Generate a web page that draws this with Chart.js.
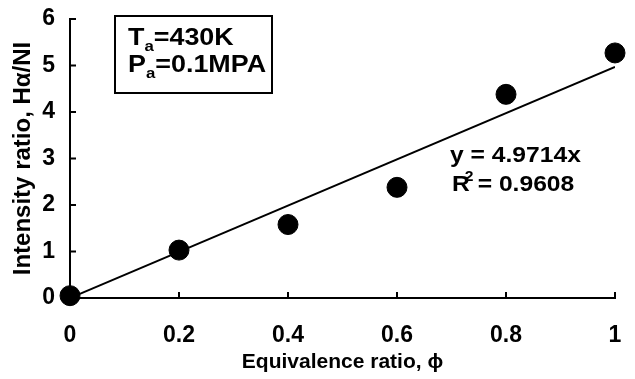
<!DOCTYPE html>
<html>
<head>
<meta charset="utf-8">
<script src="https://cdn.jsdelivr.net/npm/chart.js@4"></script>
<style>
  html, body { margin: 0; padding: 0; background: #ffffff; }
  #wrap { width: 635px; height: 379px; }
</style>
</head>
<body>
<div id="wrap"><canvas id="chart" width="635" height="379"></canvas></div>
<script>
// data
const phiValues = [0, 0.2, 0.4, 0.6, 0.8, 1.0];
const ratioValues = [0.05, 1.03, 1.58, 2.38, 4.38, 5.27];
const trendX = [0, 1];
const trendY = [0, 4.9714];
const xTickLabels = ["0", "0.2", "0.4", "0.6", "0.8", "1"];
const yTickLabels = ["0", "1", "2", "3", "4", "5", "6"];

const FONT = '"Liberation Sans", Arial, sans-serif';
const SX = 1.12; // the reference text is a bit wide

function wideText(ctx, text, x, y, size) {
  ctx.save();
  ctx.translate(x, y);
  ctx.scale(SX, 1);
  ctx.font = `bold ${size}px ${FONT}`;
  ctx.fillText(text, 0, 0);
  const w = ctx.measureText(text).width * SX;
  ctx.restore();
  return w;
}

function noPad(s) {
  s.paddingTop = 0;
  s.paddingBottom = 0;
  s.paddingLeft = 0;
  s.paddingRight = 0;
}

// small inward tick marks
const innerTicks = {
  id: "innerTicks",
  afterDraw(chart) {
    const ctx = chart.ctx;
    const xs = chart.scales.x;
    const ys = chart.scales.y;
    ctx.save();
    ctx.strokeStyle = "#000";
    ctx.lineWidth = 2;
    ctx.beginPath();
    xs.ticks.forEach((t) => {
      const px = xs.getPixelForValue(t.value);
      ctx.moveTo(px, ys.bottom);
      ctx.lineTo(px, ys.bottom - 6);
    });
    ys.ticks.forEach((t) => {
      const py = ys.getPixelForValue(t.value);
      ctx.moveTo(xs.left, py);
      ctx.lineTo(xs.left + 6, py);
    });
    ctx.stroke();
    ctx.restore();
  },
};

// condition box and fit equation
const notes = {
  id: "notes",
  afterDraw(chart) {
    const ctx = chart.ctx;
    ctx.save();
    ctx.fillStyle = "#000";
    ctx.strokeStyle = "#000";
    ctx.lineWidth = 2;
    ctx.strokeRect(115, 16, 157, 77);
    ctx.textBaseline = "alphabetic";

    let x = 128;
    x += wideText(ctx, "T", x, 45, 24);
    x += wideText(ctx, "a", x, 51, 15);
    wideText(ctx, "=430K", x, 45, 24);

    x = 128;
    x += wideText(ctx, "P", x, 72, 24);
    x += wideText(ctx, "a", x, 78, 15);
    wideText(ctx, "=0.1MPA", x, 72, 24);

    wideText(ctx, "y = 4.9714x", 450, 162, 22);
    x = 452;
    x += wideText(ctx, "R", x, 191, 22);
    wideText(ctx, "2", x - 5, 181, 14);
    wideText(ctx, " = 0.9608", x + 1, 191, 22);
    ctx.restore();
  },
};

const ctx = document.getElementById("chart").getContext("2d");
new Chart(ctx, {
  type: "scatter",
  data: {
    datasets: [
      {
        type: "line",
        label: "Fit",
        data: trendX.map((x, i) => ({ x: x, y: trendY[i] })),
        borderColor: "#000",
        borderWidth: 2,
        pointRadius: 0,
        fill: false,
        order: 2,
      },
      {
        label: "Measured",
        data: phiValues.map((x, i) => ({ x: x, y: ratioValues[i] })),
        backgroundColor: "#000",
        borderColor: "#000",
        pointRadius: 10,
        pointHoverRadius: 10,
        clip: false,
        order: 1,
      },
    ],
  },
  options: {
    responsive: false,
    animation: false,
    events: [],
    layout: { autoPadding: false, padding: { top: 19, right: 20, left: 0, bottom: 0 } },
    plugins: { legend: { display: false }, tooltip: { enabled: false } },
    scales: {
      x: {
        type: "linear",
        min: 0,
        max: 1,
        afterFit: (s) => { s.height = 81; noPad(s); },
        afterBuildTicks: (s) => { s.ticks = phiValues.map((v) => ({ value: v })); },
        ticks: {
          color: "#000",
          padding: 24,
          maxRotation: 0,
          font: { family: FONT, size: 23, weight: "bold" },
          callback: (v, i) => xTickLabels[i],
        },
        grid: { display: false, drawTicks: false },
        border: { display: true, color: "#000", width: 2 },
        title: {
          display: true,
          text: "Equivalence ratio, ϕ",
          color: "#000",
          font: { family: FONT, size: 21, weight: "bold" },
          padding: { top: 0, bottom: 4 },
        },
      },
      y: {
        min: 0,
        max: 6,
        afterFit: (s) => { s.width = 70; noPad(s); },
        ticks: {
          stepSize: 1,
          color: "#000",
          padding: 15,
          font: { family: FONT, size: 23, weight: "bold" },
          callback: (v, i) => yTickLabels[i],
        },
        grid: { display: false, drawTicks: false },
        border: { display: true, color: "#000", width: 2 },
        title: {
          display: true,
          text: "Intensity ratio, Hα/NI",
          color: "#000",
          font: { family: FONT, size: 24, weight: "bold" },
          padding: { top: 9, bottom: 0 },
        },
      },
    },
  },
  plugins: [innerTicks, notes],
});
</script>
</body>
</html>
